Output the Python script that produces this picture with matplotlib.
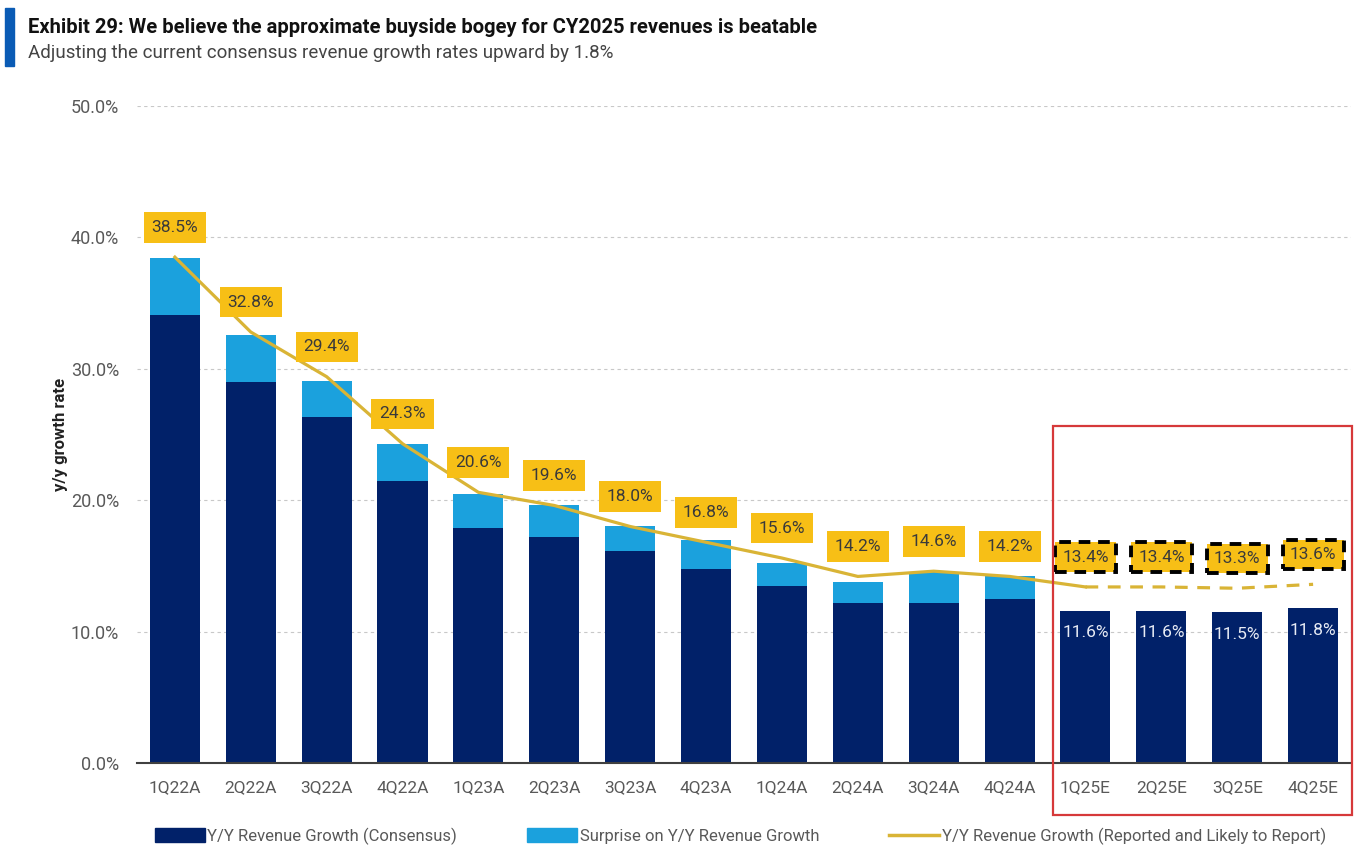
import matplotlib
matplotlib.use('Agg')
import matplotlib.pyplot as plt
from matplotlib.patches import Rectangle
from matplotlib import font_manager
import numpy as np

# pick a condensed-looking font if present
names = {f.name for f in font_manager.fontManager.ttflist}
base_font = 'Liberation Sans Narrow' if 'Liberation Sans Narrow' in names else 'Roboto'
plt.rcParams['font.family'] = [base_font, 'DejaVu Sans']

# data
quarters = ['1Q22A', '2Q22A', '3Q22A', '4Q22A', '1Q23A', '2Q23A', '3Q23A', '4Q23A',
            '1Q24A', '2Q24A', '3Q24A', '4Q24A', '1Q25E', '2Q25E', '3Q25E', '4Q25E']
consensus = [34.1, 29.0, 26.3, 21.5, 17.9, 17.2, 16.1, 14.8,
             13.5, 12.2, 12.2, 12.5, 11.6, 11.6, 11.5, 11.8]
surprise = [4.3, 3.6, 2.8, 2.8, 2.6, 2.4, 1.9, 2.2,
            1.7, 1.6, 2.3, 1.7, 0, 0, 0, 0]
reported = [38.5, 32.8, 29.4, 24.3, 20.6, 19.6, 18.0, 16.8,
            15.6, 14.2, 14.6, 14.2, 13.4, 13.4, 13.3, 13.6]
n_actual = 12

navy = '#012169'
light_blue = '#1BA1DD'
gold_line = '#D9B436'
gold_box = '#F7BF16'
red = '#D6393A'
grey_txt = '#595959'

fig = plt.figure(figsize=(13.64, 8.48), dpi=100)
ax = fig.add_axes([0.1004, 0.1002, 0.8901, 0.7748])

x = np.arange(len(quarters))
ax.bar(x, consensus, width=0.66, color=navy, zorder=2)
ax.bar(x, surprise, width=0.66, bottom=consensus, color=light_blue, zorder=2)

# line: solid for actuals into first estimate, dashed for estimates
ax.plot(x[:n_actual + 1], reported[:n_actual + 1], color=gold_line, lw=2.3, zorder=3)
ax.plot(x[n_actual:], reported[n_actual:], color=gold_line, lw=2.3, ls=(0, (4, 3)), zorder=3)

# value labels
for i, v in enumerate(reported):
    if i < n_actual:
        bb = dict(boxstyle='square,pad=0.45', fc=gold_box, ec='none')
    else:
        bb = dict(boxstyle='square,pad=0.42', fc=gold_box, ec='black', lw=2.8, ls=(0, (3, 2)))
    ax.annotate(f'{v:.1f}%', (x[i], v), xytext=(0, 21.5), textcoords='offset points',
                ha='center', va='center', fontsize=12.5, color='#3a3a3a', bbox=bb, zorder=5)

for i in range(n_actual, len(quarters)):
    ax.annotate(f'{consensus[i]:.1f}%', (x[i], consensus[i]), xytext=(0, -16),
                textcoords='offset points', ha='center', va='center',
                fontsize=12.5, color='#e8ecf5', zorder=5)

ax.set_xlim(-0.5, len(quarters) - 0.5)
ax.set_ylim(0, 50)
ax.set_yticks(np.arange(0, 51, 10))
ax.yaxis.set_major_formatter(matplotlib.ticker.FuncFormatter(lambda v, p: f'{v:.1f}%'))
ax.set_xticks(x)
ax.set_xticklabels(quarters)
ax.tick_params(axis='both', length=0, labelsize=12.5, labelcolor=grey_txt)
ax.tick_params(axis='y', pad=13, labelsize=13)
ax.tick_params(axis='x', pad=12)
for s in ['top', 'right', 'left']:
    ax.spines[s].set_visible(False)
ax.spines['bottom'].set_color('#404040')
ax.spines['bottom'].set_linewidth(1.5)
ax.spines['bottom'].set_zorder(4)
ax.yaxis.grid(True, color='#c8c8c8', ls=(0, (3, 3)), lw=0.8, zorder=0)
ax.set_axisbelow(True)
ax.set_ylabel('y/y growth rate', fontsize=12, fontweight='bold', color='#222222', labelpad=2)

# highlight box around estimates
ax.add_patch(Rectangle((11.57, -3.95), 3.94, 29.6, fill=False, ec=red, lw=1.6,
                       clip_on=False, zorder=6))

# title block
fig.patches.append(Rectangle((0.004, 0.922), 0.0066, 0.068, transform=fig.transFigure,
                             color='#0A5BB5', zorder=1))
fig.text(0.0205, 0.968, 'Exhibit 29: We believe the approximate buyside bogey for CY2025 revenues is beatable',
         fontsize=14.5, fontweight='bold', color='#111111', va='center')
fig.text(0.0205, 0.938, 'Adjusting the current consensus revenue growth rates upward by 1.8%',
         fontsize=13.5, color='#444444', va='center')

# legend
h1 = Rectangle((0, 0), 1, 1, color=navy)
h2 = Rectangle((0, 0), 1, 1, color=light_blue)
h3 = plt.Line2D([0], [0], color=gold_line, lw=2.5)
fig.legend([h1, h2, h3],
           ['Y/Y Revenue Growth (Consensus)', 'Surprise on Y/Y Revenue Growth',
            'Y/Y Revenue Growth (Reported and Likely to Report)'],
           loc='center left', bbox_to_anchor=(0.1026, 0.014), ncol=3, frameon=False,
           fontsize=12, handlelength=3.0, handleheight=0.9, handletextpad=0.15,
           columnspacing=4.2, labelcolor=grey_txt)

fig.savefig('out.png', dpi=100, facecolor='white')
